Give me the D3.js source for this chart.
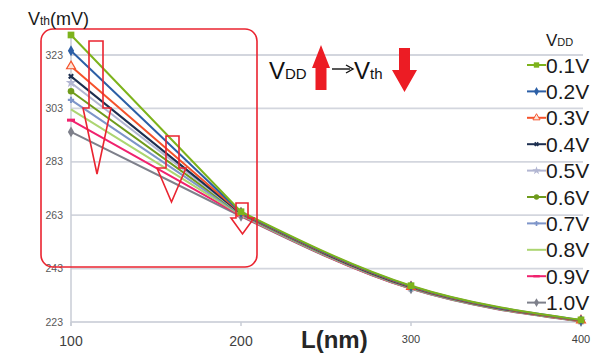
<!DOCTYPE html>
<meta charset="utf-8">
<script src="https://cdn.jsdelivr.net/npm/d3@7"></script>
<style>
  body { margin: 0; background: #fff; }
  text { font-family: "Liberation Sans", Arial, sans-serif; }
</style>
<div id="chart"></div>
<script>
// channel length (nm)
var lengths = [100, 200, 300, 400];
// supply voltage labels
var vddLabels = ["0.1V", "0.2V", "0.3V", "0.4V", "0.5V", "0.6V", "0.7V", "0.8V", "0.9V", "1.0V"];
// Vth (mV) for each VDD
var vth01 = [330.5, 264.3, 236.6, 223.8];
var vth02 = [324.6, 264.0, 236.4, 223.7];
var vth03 = [318.8, 263.8, 236.2, 223.6];
var vth04 = [315.0, 263.6, 236.0, 223.5];
var vth05 = [312.6, 263.5, 235.9, 223.5];
var vth06 = [309.4, 263.4, 235.8, 223.4];
var vth07 = [306.2, 263.2, 235.7, 223.4];
var vth08 = [302.6, 263.0, 235.6, 223.3];
var vth09 = [298.6, 262.8, 235.5, 223.3];
var vth10 = [294.2, 262.6, 235.4, 223.2];
var yTicks = [223, 243, 263, 283, 303, 323];
var xTicks = [100, 200, 300, 400];

var allVth = [vth01, vth02, vth03, vth04, vth05, vth06, vth07, vth08, vth09, vth10];
var colors = ["#7db31c", "#2c5fa6", "#f5522b", "#1d2f50", "#b2b6d2",
              "#6f9b1c", "#7e95c9", "#acd571", "#f0226e", "#7e808b"];
var symbols = ["square", "diamond", "triangle", "x", "star", "circle", "plus", "none", "dash", "diamond"];

var W = 606, H = 354;
var svg = d3.select("#chart").append("svg")
    .attr("width", W).attr("height", H);

var x = d3.scaleLinear().domain([100, 400]).range([71, 581]);
var y = d3.scaleLinear().domain([223, 323]).range([322, 55]);

// gridlines
svg.append("g").selectAll("line")
  .data(yTicks)
  .enter().append("line")
    .attr("x1", x(100)).attr("x2", 583)
    .attr("y1", function(d) { return y(d); })
    .attr("y2", function(d) { return y(d); })
    .attr("stroke", "#d3d6de").attr("stroke-width", 1.8);

// y axis line
svg.append("line")
  .attr("x1", x(100)).attr("x2", x(100))
  .attr("y1", y(331)).attr("y2", y(223) + 4)
  .attr("stroke", "#c9ccd6").attr("stroke-width", 1.5);

// x tick marks
svg.append("g").selectAll("line")
  .data(xTicks)
  .enter().append("line")
    .attr("x1", function(d) { return x(d); })
    .attr("x2", function(d) { return x(d); })
    .attr("y1", y(223)).attr("y2", y(223) + 4)
    .attr("stroke", "#c9ccd6").attr("stroke-width", 1.5);

// y tick labels
svg.append("g").selectAll("text")
  .data(yTicks)
  .enter().append("text")
    .attr("x", 63)
    .attr("y", function(d) { return y(d) + 3.5; })
    .attr("text-anchor", "end")
    .style("font-family", "'Liberation Sans Narrow', 'Arial Narrow', sans-serif")
    .attr("font-size", 10.5)
    .attr("fill", "#595959")
    .text(function(d) { return d; });

// x tick labels
svg.append("g").selectAll("text")
  .data(xTicks)
  .enter().append("text")
    .attr("x", function(d) { return x(d); })
    .attr("y", function(d) { return d <= 200 ? 346 : 343; })
    .attr("text-anchor", "middle")
    .attr("font-size", function(d) { return d <= 200 ? 14 : 11; })
    .attr("fill", "#404040")
    .text(function(d) { return d; });

// series lines: straight from 100 to 200, smoothed after that
var lineHead = d3.line()
  .x(function(d, i) { return x(lengths[i]); })
  .y(function(d) { return y(d); });
var lineTail = d3.line()
  .x(function(d, i) { return x(lengths[i + 1]); })
  .y(function(d) { return y(d); })
  .curve(d3.curveMonotoneX);

var series = svg.append("g").selectAll("g")
  .data(allVth.slice().reverse())
  .enter().append("g");

series.append("path")
  .attr("d", function(d) { return lineHead(d.slice(0, 2)) + lineTail(d.slice(1)); })
  .attr("fill", "none")
  .attr("stroke", function(d) { return colors[allVth.indexOf(d)]; })
  .attr("stroke-width", 2)
  .attr("stroke-linejoin", "round");

function marker(sel, k) {
  var c = colors[k], s = symbols[k];
  if (s === "none") return;
  if (s === "dash") {
    sel.append("rect").attr("x", -4).attr("y", -1.5).attr("width", 8).attr("height", 3).attr("fill", c);
    return;
  }
  var type = {square: d3.symbolSquare, diamond: d3.symbolDiamond, triangle: d3.symbolTriangle,
              x: d3.symbolCross, star: d3.symbolStar, circle: d3.symbolCircle, plus: d3.symbolCross}[s];
  var p = sel.append("path").attr("d", d3.symbol().type(type).size(s === "square" ? 45 : 34)());
  if (s === "triangle") p.attr("fill", "#fde4d8").attr("stroke", c).attr("stroke-width", 1.2);
  else if (s === "x") p.attr("fill", c).attr("transform", "rotate(45)").attr("d", d3.symbol().type(d3.symbolCross).size(22)());
  else if (s === "plus") p.attr("fill", c).attr("d", d3.symbol().type(d3.symbolCross).size(22)());
  else p.attr("fill", c);
}

series.each(function(d) {
  var k = allVth.indexOf(d);
  d3.select(this).selectAll("g.pt")
    .data(d)
    .enter().append("g")
      .attr("class", "pt")
      .attr("transform", function(v, i) { return "translate(" + x(lengths[i]) + "," + y(v) + ")"; })
      .each(function() { marker(d3.select(this), k); });
});

// red rounded frame
svg.append("rect")
  .attr("x", 41).attr("y", 29).attr("width", 216).attr("height", 238)
  .attr("rx", 12).attr("ry", 12)
  .attr("fill", "none").attr("stroke", "#ea2430").attr("stroke-width", 1.6);

// hollow down arrows
var arrows = [
  {sx0: 89, sx1: 103, top: 41, neck: 108, hx0: 83, hx1: 111, tip: 174},
  {sx0: 166, sx1: 179, top: 136, neck: 168, hx0: 157, hx1: 186, tip: 202},
  {sx0: 236, sx1: 248, top: 203, neck: 218, hx0: 231, hx1: 254, tip: 234}
];
svg.append("g").selectAll("path")
  .data(arrows)
  .enter().append("path")
    .attr("d", function(a) {
      var cx = (a.hx0 + a.hx1) / 2;
      return "M" + a.sx0 + "," + a.top + "L" + a.sx1 + "," + a.top + "L" + a.sx1 + "," + a.neck +
        "L" + a.hx1 + "," + a.neck + "L" + cx + "," + a.tip + "L" + a.hx0 + "," + a.neck +
        "L" + a.sx0 + "," + a.neck + "Z";
    })
    .attr("fill", "none").attr("stroke", "#ea2430").attr("stroke-width", 1.6);

// axis titles
var yt = svg.append("text").attr("x", 28).attr("y", 25).attr("fill", "#1a1a1a").attr("font-size", 18);
yt.append("tspan").text("V");
yt.append("tspan").attr("font-size", 12).text("th");
yt.append("tspan").text("(mV)");

svg.append("text")
  .attr("x", 301).attr("y", 348)
  .attr("font-size", 24).attr("font-weight", "bold").attr("fill", "#262626")
  .text("L(nm)");

// annotation VDD up -> Vth down
var ann = svg.append("text").attr("x", 269).attr("y", 79).attr("fill", "#111").attr("font-size", 24);
ann.append("tspan").text("V");
ann.append("tspan").attr("font-size", 15).text("DD");
// thin arrow
svg.append("line").attr("x1", 332).attr("x2", 350).attr("y1", 69).attr("y2", 69)
  .attr("stroke", "#111").attr("stroke-width", 1.4);
svg.append("path").attr("d", "M346,65L353,69L346,73").attr("fill", "none")
  .attr("stroke", "#111").attr("stroke-width", 1.4);
var ann2 = svg.append("text").attr("x", 354).attr("y", 79).attr("fill", "#111").attr("font-size", 24);
ann2.append("tspan").text("V");
ann2.append("tspan").attr("font-size", 15).text("th");

function solidArrow(cx, top, bottom, up, hw, sw, hl) {
  var pts = up
    ? [[cx, top], [cx + hw, top + hl], [cx + sw, top + hl], [cx + sw, bottom], [cx - sw, bottom], [cx - sw, top + hl], [cx - hw, top + hl]]
    : [[cx, bottom], [cx + hw, bottom - hl], [cx + sw, bottom - hl], [cx + sw, top], [cx - sw, top], [cx - sw, bottom - hl], [cx - hw, bottom - hl]];
  svg.append("path").attr("d", "M" + pts.join("L") + "Z").attr("fill", "#ec1c24");
}
solidArrow(321, 45, 90, true, 9, 5.5, 23);
solidArrow(404.5, 48, 92, false, 12.5, 5.5, 22);

// legend
var lg = svg.append("g");
var lt = lg.append("text").attr("x", 546).attr("y", 46).attr("fill", "#1a1a1a").attr("font-size", 17);
lt.append("tspan").text("V");
lt.append("tspan").attr("font-size", 11).text("DD");

var items = lg.selectAll("g.item")
  .data(vddLabels)
  .enter().append("g")
    .attr("class", "item")
    .attr("transform", function(d, i) { return "translate(0," + (65 + i * 26.4) + ")"; });

items.append("line")
  .attr("x1", 527).attr("x2", 546)
  .attr("stroke", function(d, i) { return colors[i]; })
  .attr("stroke-width", 2);
items.each(function(d, i) {
  var g = d3.select(this).append("g").attr("transform", "translate(536.5,0) scale(0.8)");
  marker(g, i);
});
items.append("text")
  .attr("x", 546).attr("y", 7.5)
  .attr("font-size", 21).attr("fill", "#1a1a1a")
  .text(function(d) { return d; });
</script>
